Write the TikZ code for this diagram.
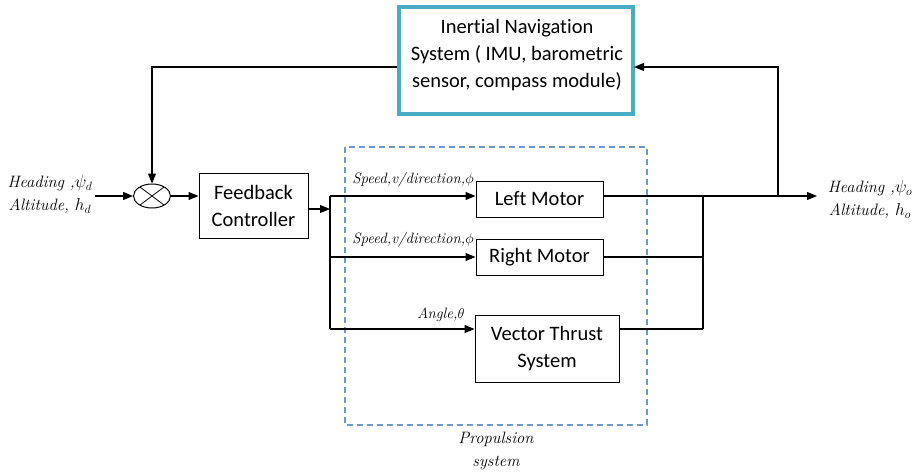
\documentclass[tikz,border=0pt]{standalone}
\usepackage{fontspec}
\newfontfamily\boxfont[Ligatures={NoCommon}]{Carlito}
\usetikzlibrary{arrows.meta,calc,shapes.geometric}
\definecolor{insblue}{HTML}{4BACC6}
\definecolor{dashblue}{HTML}{6F98CF}
\begin{document}
\begin{tikzpicture}[x=1pt,y=-1pt,
  blk/.style={draw=black,line width=1pt,inner sep=0pt,font=\boxfont\fontsize{20.5}{27}\selectfont,align=center},
  conn/.style={line width=1.1pt},
  arr/.style={conn,-{Triangle[length=10pt,width=8pt]}},
  lab/.style={inner sep=0pt,align=center,font=\itshape\fontsize{16.5}{23}\selectfont},
  slab/.style={inner sep=0pt,font=\itshape\fontsize{15}{17}\selectfont}]
\useasboundingbox (0,0) rectangle (921,472);
% propulsion dashed box
\draw[dashblue,line width=1.5pt,dash pattern=on 6pt off 4pt] (345,147) rectangle (647,425);
% INS
\node[draw=insblue,line width=4pt,minimum width=234pt,minimum height=107pt,inner sep=0pt] (ins) at (516,60.5) {};
\node[inner sep=0pt,align=center,font=\boxfont\fontsize{20.5}{27}\selectfont] (inst) at (517,55) {Inertial Navigation\\System ( IMU, barometric\\sensor, compass module)};
% summing junction
\node[draw,ellipse,line width=1pt,minimum width=37pt,minimum height=24pt,inner sep=0pt] (sum) at (152,196) {};
\draw[line width=0.8pt] ($(sum.center)+(-12,-9)$) -- ($(sum.center)+(12,9)$);
\draw[line width=0.8pt] ($(sum.center)+(-12,9)$) -- ($(sum.center)+(12,-9)$);
% blocks
\node[blk,minimum width=109pt,minimum height=65pt] (fc) at (253.5,205.5) {Feedback\\Controller};
\node[blk,minimum width=127pt,minimum height=36pt] (lm) at (539.5,199) {Left Motor};
\node[blk,minimum width=127pt,minimum height=36pt] (rm) at (539.5,257) {Right Motor};
\node[blk,minimum width=144pt,minimum height=67pt] (vt) at (547,348.5) {Vector Thrust\\System};
% coordinates
\coordinate (in) at (95,196);
\coordinate (split) at (330,209);
\coordinate (b1) at (330,196);
\coordinate (b2) at (330,257);
\coordinate (b3) at (330,329);
\coordinate (out) at (817,196);
\coordinate (j1) at (778,196);
\coordinate (j1t) at (778,67);
\coordinate (j2) at (703,196);
\coordinate (j2b) at (703,329);
\coordinate (j2m) at (703,257);
\coordinate (fbl) at (152,67);
% connectors
\draw[arr] (in) -- (sum.west);
\draw[arr] (sum.east) -- (sum.east -| fc.west);
\draw[arr] (split -| fc.east) -- (split);
\draw[conn] (b1) -- (b3);
\draw[arr] (b1) -- (b1 -| lm.west);
\draw[arr] (b2) -- (b2 -| rm.west);
\draw[arr] (b3) -- (b3 -| vt.west);
\draw[arr] (b1 -| lm.east) -- (out);
\draw[arr] (j1) -- (j1t) -- ([xshift=-1pt]j1t -| ins.east);
\draw[arr] (j1t -| ins.west) -- (fbl) -- (sum.north);
\draw[conn] (j2) -- (j2b);
\draw[conn] (j2m -| rm.east) -- (j2m);
\draw[conn] (j2b -| vt.east) -- (j2b);
% labels
\node[lab] (inlab) at (50,195) {Heading ,$\psi_d$\\Altitude, $h_d$};
\node[lab] (outlab) at (870,199.5) {Heading ,$\psi_o$\\Altitude, $h_o$};
\node[slab] (s1) at (413,180) {Speed,v/direction,$\phi$};
\node[slab] (s2) at (413,240) {Speed,v/direction,$\phi$};
\node[slab] (s3) at (441,315) {Angle,$\theta$};
\node[lab] (prop) at (496,451) {Propulsion\\system};
\end{tikzpicture}
\end{document}
